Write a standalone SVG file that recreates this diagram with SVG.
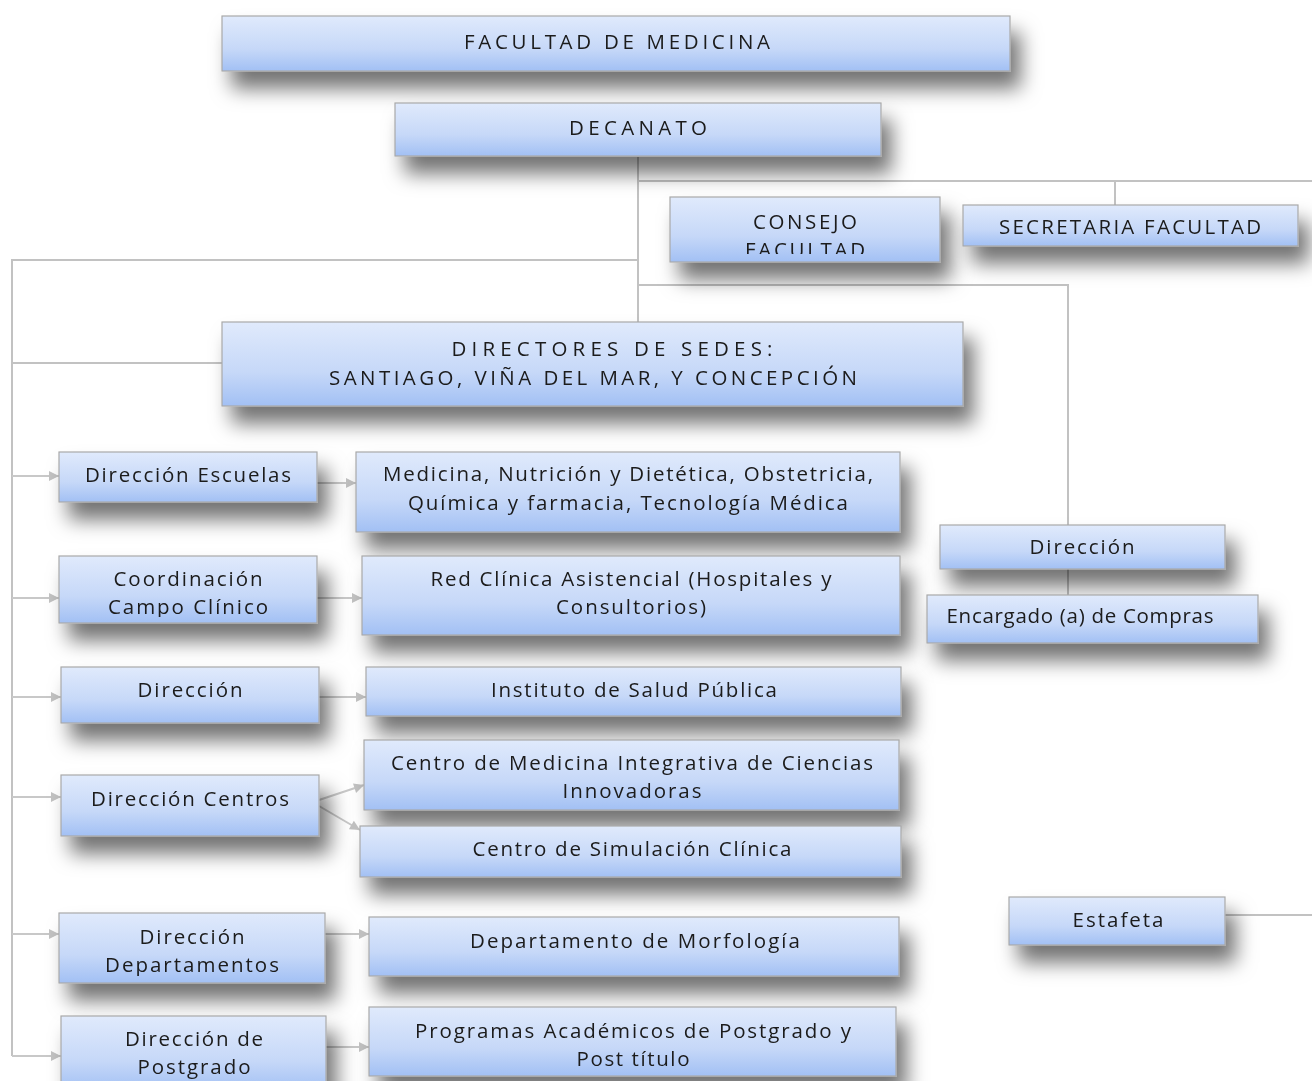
<svg xmlns="http://www.w3.org/2000/svg" width="1312" height="1081" viewBox="0 0 1312 1081">
<style>
.box{fill:url(#g);stroke:#a8a8a8;stroke-width:1.2}
.t{font-family:"Open Sans","Noto Sans",sans-serif;font-size:20.5px;fill:#1a1a1a;text-anchor:middle}
.c{fill:none;stroke:#c2c2c2;stroke-width:2}
.a{fill:none;stroke:#c8c8c8;stroke-width:2;marker-end:url(#ar)}
.n{filter:url(#sh)}
</style>
<defs>
<linearGradient id="g" x1="0" y1="0" x2="0" y2="1">
<stop offset="0" stop-color="#e0eafc"/>
<stop offset="0.6" stop-color="#c6d8f8"/>
<stop offset="1" stop-color="#a2c0f4"/>
</linearGradient>
<filter id="sh" x="-20%" y="-50%" width="150%" height="300%">
<feDropShadow dx="10" dy="17" stdDeviation="10" flood-color="#000" flood-opacity="0.55"/>
</filter>
<marker id="ar" viewBox="0 0 10 10" refX="10" refY="5" markerWidth="11" markerHeight="10" markerUnits="userSpaceOnUse" orient="auto">
<path d="M0,0 L10,5 L0,10 Z" fill="#c2c2c2"/>
</marker>
<clipPath id="cpConsejo"><rect x="670" y="197" width="270" height="57"/></clipPath>
<clipPath id="cpCampo"><rect x="59" y="556" width="258" height="61"/></clipPath>
<clipPath id="cpDir3"><rect x="61" y="667" width="258" height="49"/></clipPath>
<clipPath id="cpDept"><rect x="59" y="913" width="266" height="63"/></clipPath>
</defs>

<g id="connectors">
<path class="c" d="M638,157 V322"/>
<path class="c" d="M638,181 H1312"/>
<path class="c" d="M1115,181 V205"/>
<path class="c" d="M638,260 H12 V1056"/>
<path class="c" d="M12,363 H222"/>
<path class="c" d="M638,285 H1068 V525"/>
<path class="c" d="M1068,569 V595"/>
<path class="c" d="M1225,915 H1312"/>
<path class="a" d="M12,476 H59"/>
<path class="a" d="M12,598 H59"/>
<path class="a" d="M12,697 H61"/>
<path class="a" d="M12,797 H61"/>
<path class="a" d="M12,934 H59"/>
<path class="a" d="M12,1056 H61"/>
<path class="a" d="M317,483 H356"/>
<path class="a" d="M317,598 H362"/>
<path class="a" d="M319,697 H366"/>
<path class="a" d="M319,800 L364,785"/>
<path class="a" d="M319,806 L360,830"/>
<path class="a" d="M325,934 H369"/>
<path class="a" d="M326,1047 H369"/>
</g>

<g id="n-facultad" class="n"><rect class="box" x="222" y="16" width="788" height="55"/><text class="t" x="617" y="49" textLength="306" lengthAdjust="spacing">FACULTAD DE MEDICINA</text></g>
<g id="n-decanato" class="n"><rect class="box" x="395" y="103" width="486" height="53"/><text class="t" x="638" y="135" textLength="138" lengthAdjust="spacing">DECANATO</text></g>
<g id="n-consejo" class="n"><rect class="box" x="670" y="197" width="270" height="65"/><g clip-path="url(#cpConsejo)"><text class="t" x="805" y="229" textLength="104" lengthAdjust="spacing">CONSEJO</text><text class="t" x="805" y="257" textLength="120" lengthAdjust="spacing">FACULTAD</text></g></g>
<g id="n-secretaria" class="n"><rect class="box" x="963" y="205" width="335" height="41"/><text class="t" x="1130" y="234" textLength="262" lengthAdjust="spacing">SECRETARIA FACULTAD</text></g>
<g id="n-directores" class="n"><rect class="box" x="222" y="322" width="741" height="84"/><text class="t" x="612" y="356" textLength="321" lengthAdjust="spacing">DIRECTORES DE SEDES:</text><text class="t" x="593" y="385" textLength="528" lengthAdjust="spacing">SANTIAGO, VIÑA DEL MAR, Y CONCEPCIÓN</text></g>

<g id="n-dir-escuelas" class="n"><rect class="box" x="59" y="452" width="258" height="50"/><text class="t" x="188" y="482" textLength="206" lengthAdjust="spacing">Dirección Escuelas</text></g>
<g id="n-escuelas" class="n"><rect class="box" x="356" y="452" width="544" height="80"/><text class="t" x="628" y="481" textLength="490" lengthAdjust="spacing">Medicina, Nutrición y Dietética, Obstetricia,</text><text class="t" x="628" y="510" textLength="440" lengthAdjust="spacing">Química y farmacia, Tecnología Médica</text></g>
<g id="n-coord" class="n"><rect class="box" x="59" y="556" width="258" height="67"/><g clip-path="url(#cpCampo)"><text class="t" x="188" y="586" textLength="149" lengthAdjust="spacing">Coordinación</text><text class="t" x="188" y="614" textLength="160" lengthAdjust="spacing">Campo Clínico</text></g></g>
<g id="n-red" class="n"><rect class="box" x="362" y="556" width="538" height="79"/><text class="t" x="631" y="586" textLength="401" lengthAdjust="spacing">Red Clínica Asistencial (Hospitales y</text><text class="t" x="631" y="614" textLength="150" lengthAdjust="spacing">Consultorios)</text></g>
<g id="n-dir-isp" class="n"><rect class="box" x="61" y="667" width="258" height="56"/><g clip-path="url(#cpDir3)"><text class="t" x="190" y="697" textLength="105" lengthAdjust="spacing">Dirección</text></g></g>
<g id="n-isp" class="n"><rect class="box" x="366" y="667" width="535" height="49"/><text class="t" x="634" y="697" textLength="286" lengthAdjust="spacing">Instituto de Salud Pública</text></g>
<g id="n-dir-centros" class="n"><rect class="box" x="61" y="775" width="258" height="61"/><text class="t" x="190" y="806" textLength="198" lengthAdjust="spacing">Dirección Centros</text></g>
<g id="n-cmi" class="n"><rect class="box" x="364" y="740" width="535" height="70"/><text class="t" x="632" y="770" textLength="482" lengthAdjust="spacing">Centro de Medicina Integrativa de Ciencias</text><text class="t" x="632" y="798" textLength="139" lengthAdjust="spacing">Innovadoras</text></g>
<g id="n-sim" class="n"><rect class="box" x="360" y="826" width="541" height="51"/><text class="t" x="632" y="856" textLength="319" lengthAdjust="spacing">Centro de Simulación Clínica</text></g>
<g id="n-dir-dept" class="n"><rect class="box" x="59" y="913" width="266" height="70"/><g clip-path="url(#cpDept)"><text class="t" x="192" y="944" textLength="105" lengthAdjust="spacing">Dirección</text><text class="t" x="192" y="972" textLength="174" lengthAdjust="spacing">Departamentos</text></g></g>
<g id="n-morf" class="n"><rect class="box" x="369" y="917" width="530" height="59"/><text class="t" x="635" y="948" textLength="330" lengthAdjust="spacing">Departamento de Morfología</text></g>
<g id="n-dir-post" class="n"><rect class="box" x="61" y="1016" width="265" height="75"/><text class="t" x="194" y="1046" textLength="138" lengthAdjust="spacing">Dirección de</text><text class="t" x="194" y="1074" textLength="113" lengthAdjust="spacing">Postgrado</text></g>
<g id="n-prog" class="n"><rect class="box" x="369" y="1007" width="527" height="69"/><text class="t" x="633" y="1038" textLength="436" lengthAdjust="spacing">Programas Académicos de Postgrado y</text><text class="t" x="633" y="1066" textLength="113" lengthAdjust="spacing">Post título</text></g>

<g id="n-direccion" class="n"><rect class="box" x="940" y="525" width="285" height="44"/><text class="t" x="1082" y="554" textLength="105" lengthAdjust="spacing">Dirección</text></g>
<g id="n-compras" class="n"><rect class="box" x="927" y="595" width="331" height="48"/><text class="t" x="1080" y="623" textLength="267" lengthAdjust="spacing">Encargado (a) de Compras</text></g>
<g id="n-estafeta" class="n"><rect class="box" x="1009" y="897" width="216" height="48"/><text class="t" x="1118" y="927" textLength="91" lengthAdjust="spacing">Estafeta</text></g>
</svg>
